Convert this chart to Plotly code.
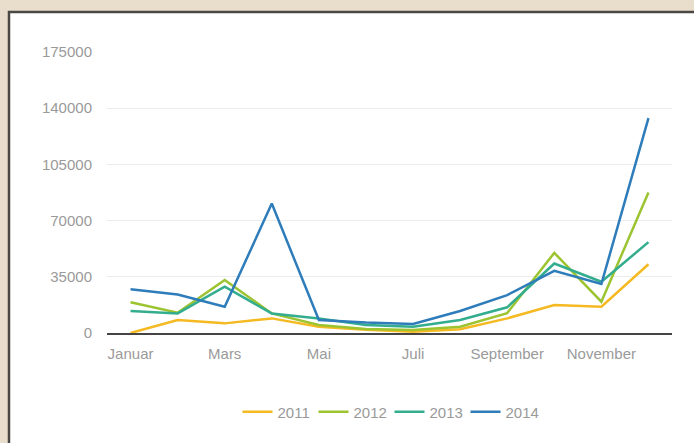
import plotly.graph_objects as go

months = ["Januar", "Februar", "Mars", "April", "Mai", "Juni", "Juli",
          "August", "September", "Oktober", "November", "Desember"]
shown_ticks = ["Januar", "Mars", "Mai", "Juli", "September", "November"]
y_ticks = [0, 35000, 70000, 105000, 140000, 175000]

s2011 = [0, 8100, 6000, 9100, 3900, 2000, 800, 2300, 9100, 17400, 16400, 42800]
s2012 = [19100, 12600, 33000, 12200, 5000, 2500, 1900, 3900, 12400, 49900, 19500, 87500]
s2013 = [13700, 12200, 28800, 12200, 9100, 5000, 3900, 8100, 16000, 43300, 31900, 56600]
s2014 = [27300, 24000, 16400, 80600, 8100, 6500, 5600, 13700, 23600, 38700, 30500, 133800]

series = [("2011", s2011, "#f5b921"),
          ("2012", s2012, "#9cc431"),
          ("2013", s2013, "#33ad8e"),
          ("2014", s2014, "#2e7dba")]

fig = go.Figure()
for name, vals, col in series:
    fig.add_trace(go.Scatter(x=months, y=vals, name=name, mode="lines",
                             line=dict(color=col, width=2.5)))

# panel
L, R, T, B = 107, 22, 52, 110
pw = 694 - L - R
ph = 443 - T - B
fig.add_shape(type="rect", xref="paper", yref="paper",
              x0=(9 - L) / pw, x1=(720 - L) / pw,
              y0=(333 - 470) / ph, y1=(333 - 12) / ph,
              fillcolor="white", line=dict(color="#4a4744", width=2.5),
              layer="below")

fig.update_layout(
    width=694, height=443,
    margin=dict(l=L, r=R, t=T, b=B),
    paper_bgcolor="#e9ddcb",
    plot_bgcolor="rgba(0,0,0,0)",
    font=dict(family="Liberation Sans, Arial, sans-serif", size=15, color="#9a9a9a"),
    showlegend=True,
    legend=dict(orientation="h", x=0.5, xanchor="center",
                y=(333 - 412) / ph, yanchor="middle",
                font=dict(size=15, color="#9a9a9a"),
                bgcolor="rgba(0,0,0,0)", itemwidth=30,
                entrywidth=31, entrywidthmode="pixels"),
    xaxis=dict(type="category", categoryarray=months, tickvals=shown_ticks,
               showgrid=False, showline=True, linecolor="#444444", linewidth=2,
               ticks="", ticklabelstandoff=6, range=[-0.5, 11.5]),
    yaxis=dict(range=[0, 175000], tickvals=y_ticks,
               ticktext=[str(v) for v in y_ticks],
               showgrid=True, gridcolor="#ececec", gridwidth=1,
               zeroline=False, showline=False, ticks="",
               ticklabelstandoff=14),
)

fig.write_html("out.html", config={"displayModeBar": False},
               post_script="document.body.style.margin='0';")
